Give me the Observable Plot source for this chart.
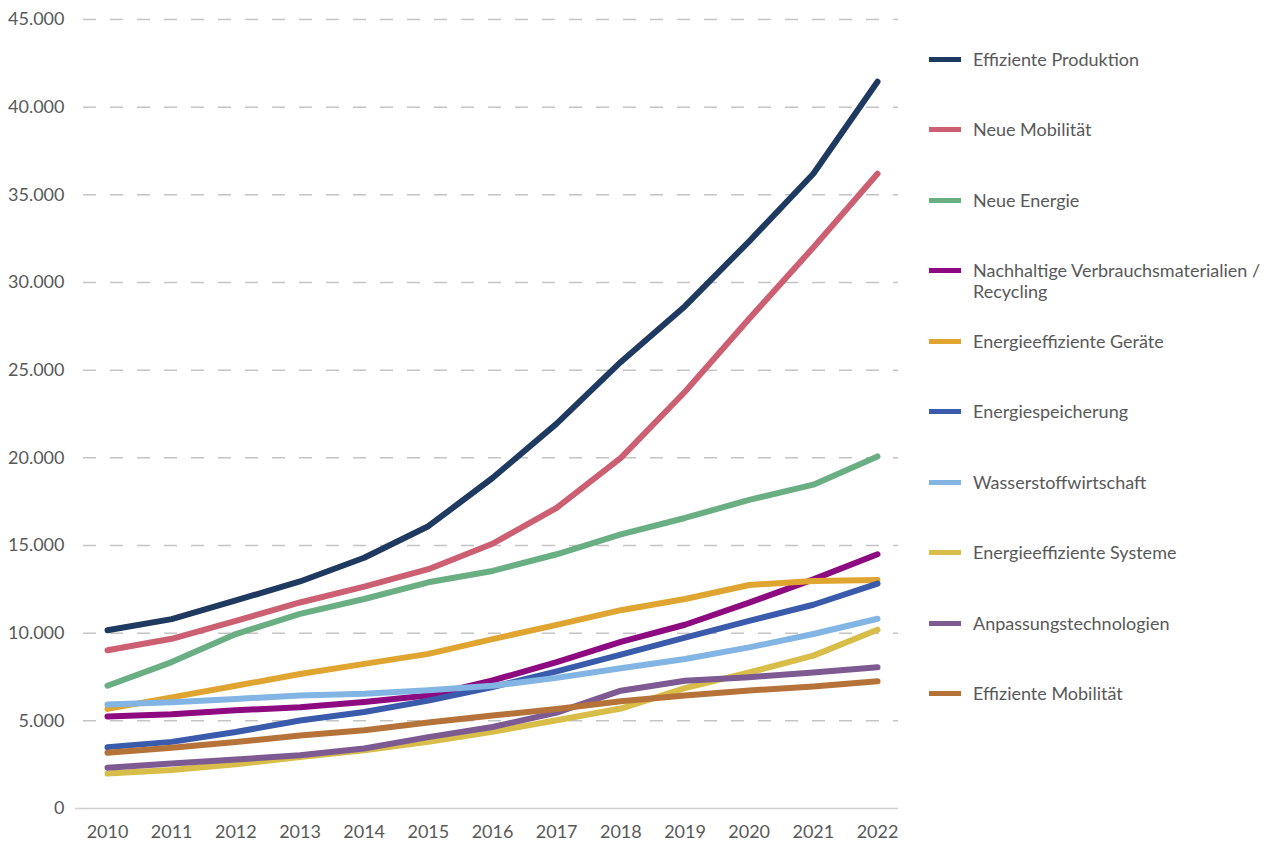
<!DOCTYPE html>
<html>
<head>
<meta charset="utf-8">
<script src="https://cdn.jsdelivr.net/npm/d3@7"></script>
<script src="https://cdn.jsdelivr.net/npm/@observablehq/plot@0.6"></script>
<style>
  html, body { margin: 0; padding: 0; background: #fff; }
  #wrap { position: relative; width: 1279px; height: 844px; font-family: Lato, "Open Sans", sans-serif; }
  #chart { position: absolute; left: 0; top: 0; }
  .leg { position: absolute; left: 929px; display: flex; align-items: flex-start; color: #595959; font-size: 18px; line-height: 21px; }
  .sw { width: 32px; height: 5px; margin-top: 8px; margin-right: 12px; flex: none; }
</style>
</head>
<body>
<div id="wrap"><div id="chart"></div></div>
<script>
const years = [2010, 2011, 2012, 2013, 2014, 2015, 2016, 2017, 2018, 2019, 2020, 2021, 2022];

const seriesNames = [
  "Effiziente Produktion",
  "Neue Mobilität",
  "Neue Energie",
  "Nachhaltige Verbrauchsmaterialien / Recycling",
  "Energieeffiziente Geräte",
  "Energiespeicherung",
  "Wasserstoffwirtschaft",
  "Energieeffiziente Systeme",
  "Anpassungstechnologien",
  "Effiziente Mobilität"
];
const seriesColors = ["#1f3a60", "#cc5f72", "#6aaf84", "#8e0a80", "#e0a530", "#3a5bab", "#82b4e4", "#d8be48", "#7e5a92", "#b5733a"];

const effizienteProduktion  = [10170, 10800, 11870, 12950, 14300, 16100, 18850, 21950, 25470, 28650, 32350, 36200, 41450];
const neueMobilitaet        = [9030, 9680, 10700, 11750, 12650, 13650, 15100, 17150, 20000, 23770, 27930, 32000, 36200];
const neueEnergie           = [7000, 8350, 9950, 11100, 11950, 12900, 13550, 14500, 15630, 16570, 17600, 18470, 20080];
const nachhaltige           = [5250, 5370, 5600, 5780, 6070, 6440, 7300, 8350, 9500, 10480, 11740, 13070, 14500];
const geraete               = [5680, 6340, 7000, 7670, 8250, 8820, 9660, 10470, 11310, 11950, 12750, 12980, 13030];
const speicherung           = [3500, 3800, 4360, 5020, 5500, 6150, 6930, 7820, 8780, 9750, 10700, 11620, 12830];
const wasserstoff           = [5930, 6060, 6250, 6440, 6540, 6750, 7000, 7450, 8000, 8530, 9190, 9950, 10820];
const systeme               = [1990, 2190, 2530, 2930, 3320, 3800, 4380, 5030, 5700, 6870, 7760, 8720, 10200];
const anpassung             = [2330, 2560, 2790, 3040, 3420, 4070, 4650, 5470, 6720, 7290, 7490, 7760, 8050];
const effizienteMobilitaet  = [3180, 3470, 3790, 4160, 4460, 4900, 5300, 5680, 6120, 6440, 6730, 6960, 7260];

const seriesValues = [effizienteProduktion, neueMobilitaet, neueEnergie, nachhaltige, geraete, speicherung, wasserstoff, systeme, anpassung, effizienteMobilitaet];
const yTicks = [0, 5000, 10000, 15000, 20000, 25000, 30000, 35000, 40000, 45000];

const data = [];
seriesNames.forEach((name, i) => {
  years.forEach((yr, j) => data.push({series: name, year: yr, value: seriesValues[i][j]}));
});

const de = d3.formatLocale({decimal: ",", thousands: ".", grouping: [3], currency: ["", " €"]});
const fmt = de.format(",");

const plot = Plot.plot({
  width: 1279,
  height: 844,
  marginLeft: 75,
  marginRight: 381,
  marginTop: 19,
  marginBottom: 36,
  insetLeft: 32,
  insetRight: 21,
  style: {fontFamily: "Lato, 'Open Sans', sans-serif", fontSize: "18px", color: "#595959", background: "#fff"},
  x: {domain: [2010, 2022], label: null},
  y: {domain: [0, 45000], label: null},
  color: {domain: seriesNames, range: seriesColors},
  marks: [
    Plot.ruleY(yTicks.filter(d => d > 0), {stroke: "#c4c4c4", strokeWidth: 1.5, strokeDasharray: "13,14", strokeDashoffset: -8}),
    Plot.ruleY([0], {stroke: "#d0d0d0", strokeWidth: 1.5}),
    Plot.axisX({ticks: years, tickFormat: d => String(d), tickSize: 0, tickPadding: 17, fontSize: 18, fill: "#595959"}),
    Plot.axisY({ticks: yTicks, tickFormat: fmt, tickSize: 0, tickPadding: 11, fontSize: 18, fill: "#595959"}),
    Plot.line(data, {x: "year", y: "value", z: "series", stroke: "series", strokeWidth: 6, strokeLinecap: "round", strokeLinejoin: "round"})
  ]
});
document.getElementById("chart").appendChild(plot);

const wrap = document.getElementById("wrap");
seriesNames.forEach((name, i) => {
  const item = document.createElement("div");
  item.className = "leg";
  item.style.top = (59 + i * 70.55 - 10.5) + "px";
  const sw = document.createElement("div");
  sw.className = "sw";
  sw.style.background = seriesColors[i];
  const tx = document.createElement("div");
  const parts = name.split(" / ");
  if (parts.length > 1) {
    tx.appendChild(document.createTextNode(parts[0] + " /"));
    tx.appendChild(document.createElement("br"));
    tx.appendChild(document.createTextNode(parts[1]));
  } else {
    tx.textContent = name;
  }
  item.appendChild(sw);
  item.appendChild(tx);
  wrap.appendChild(item);
});
</script>
</body>
</html>
